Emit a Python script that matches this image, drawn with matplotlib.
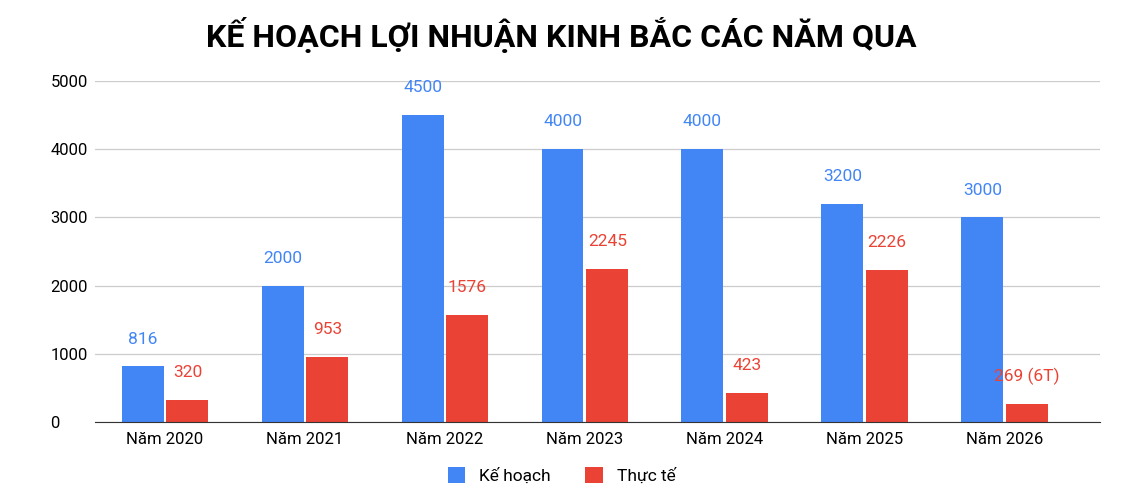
import matplotlib
matplotlib.use("Agg")
import matplotlib.pyplot as plt
import numpy as np

categories = ["Năm 2020", "Năm 2021", "Năm 2022", "Năm 2023", "Năm 2024", "Năm 2025", "Năm 2026"]
ke_hoach = [816, 2000, 4500, 4000, 4000, 3200, 3000]
thuc_te = [320, 953, 1576, 2245, 423, 2226, 269]
thuc_te_labels = ["320", "953", "1576", "2245", "423", "2226", "269 (6T)"]
yticks = [0, 1000, 2000, 3000, 4000, 5000]

plt.rcParams['font.family'] = ['Roboto', 'DejaVu Sans']
blue, red = "#4285F4", "#EA4335"

fig = plt.figure(figsize=(11.23, 4.9), dpi=100)
ax = fig.add_axes([0.0846, 0.1388, 0.8949, 0.6959])
x = np.arange(len(categories))
w = 0.3
b1 = ax.bar(x - 0.16, ke_hoach, w, color=blue, label="Kế hoạch")
b2 = ax.bar(x + 0.16, thuc_te, w, color=red, label="Thực tế")
for xi, v in zip(x, ke_hoach):
    ax.text(xi - 0.16, v + 400, str(v), ha="center", va="center", color=blue, fontsize=12.5)
for xi, v, l in zip(x, thuc_te, thuc_te_labels):
    ax.text(xi + 0.16, v + 400, l, ha="center", va="center", color=red, fontsize=12.5)
ax.set_xlim(-0.50, 6.68)
ax.set_ylim(0, 5000)
ax.set_yticks(yticks)
ax.set_xticks(x)
ax.set_xticklabels(categories, fontsize=12)
ax.tick_params(axis="y", labelsize=12, length=0, pad=32)
ax.tick_params(axis="x", length=0, pad=7)
for lab in ax.get_yticklabels():
    lab.set_horizontalalignment("left")
ax.grid(axis="y", color="#cccccc", lw=0.9)
ax.set_axisbelow(True)
for s in ["top", "right", "left"]:
    ax.spines[s].set_visible(False)
ax.spines["bottom"].set_color("#333333")
fig.suptitle("KẾ HOẠCH LỢI NHUẬN KINH BẮC CÁC NĂM QUA", fontsize=23, fontweight="bold", y=0.965)
fig.legend(handles=[b1, b2], loc="lower center", ncol=2, frameon=False, fontsize=12.5,
           bbox_to_anchor=(0.5, -0.02), handlelength=1.0, handleheight=1.0, columnspacing=2)
fig.savefig("out.png", dpi=100)
